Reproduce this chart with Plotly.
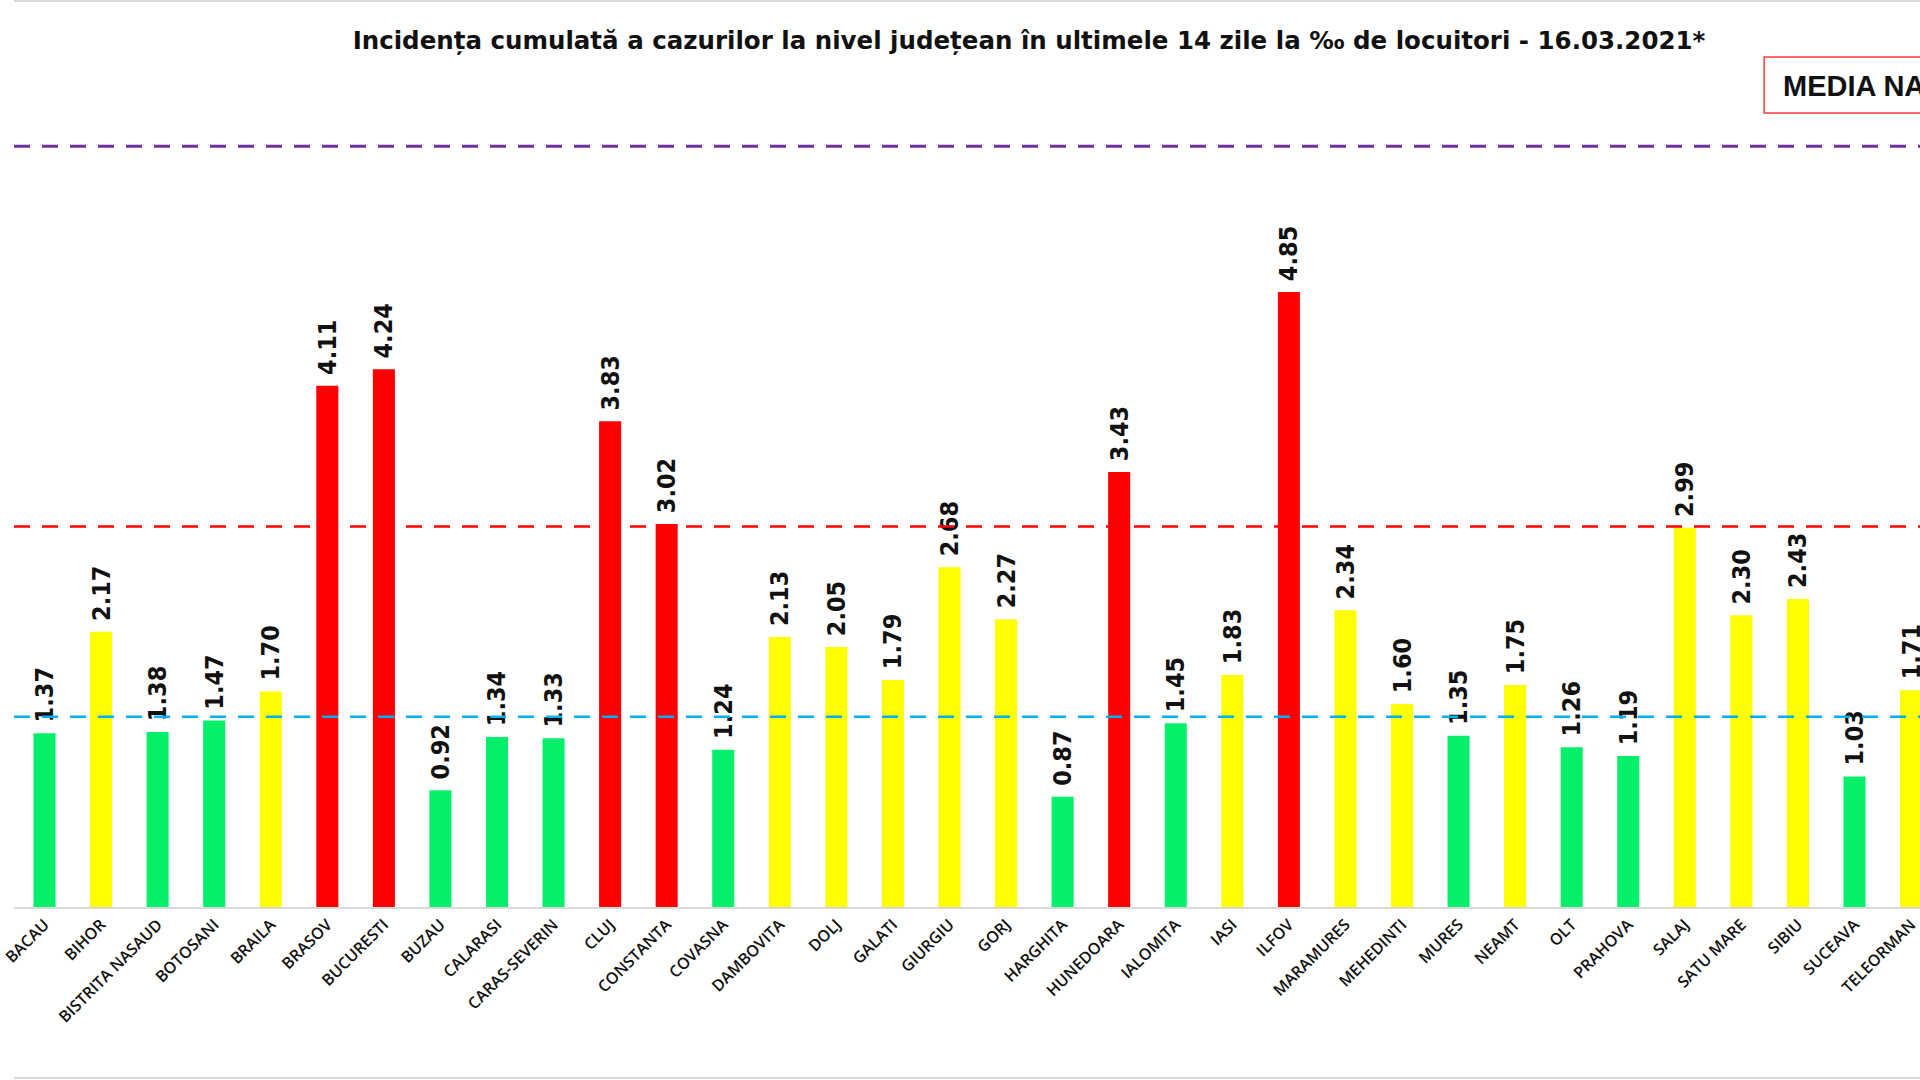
import plotly.graph_objects as go

counties = ["BACAU", "BIHOR", "BISTRITA NASAUD", "BOTOSANI", "BRAILA", "BRASOV", "BUCURESTI",
            "BUZAU", "CALARASI", "CARAS-SEVERIN", "CLUJ", "CONSTANTA", "COVASNA", "DAMBOVITA",
            "DOLJ", "GALATI", "GIURGIU", "GORJ", "HARGHITA", "HUNEDOARA", "IALOMITA", "IASI",
            "ILFOV", "MARAMURES", "MEHEDINTI", "MURES", "NEAMT", "OLT", "PRAHOVA", "SALAJ",
            "SATU MARE", "SIBIU", "SUCEAVA", "TELEORMAN"]
incidence = [1.37, 2.17, 1.38, 1.47, 1.70, 4.11, 4.24,
             0.92, 1.34, 1.33, 3.83, 3.02, 1.24, 2.13,
             2.05, 1.79, 2.68, 2.27, 0.87, 3.43, 1.45, 1.83,
             4.85, 2.34, 1.60, 1.35, 1.75, 1.26, 1.19, 2.99,
             2.30, 2.43, 1.03, 1.71]
thresholds = [1.5, 3.0, 6.0]
title_text = "Incidența cumulată a cazurilor la nivel județean în ultimele 14 zile la ‰ de locuitori - 16.03.2021*"
box_text = "MEDIA NATIONALA"

GREEN, YELLOW, RED = "#05F06A", "#FFFF00", "#FF0000"


def color_for(v):
    if v <= thresholds[0]:
        return GREEN
    if v <= thresholds[1]:
        return YELLOW
    return RED


colors = [color_for(v) for v in incidence]

W, H = 1920, 1080
BASE = 907  # pixel row of the category axis
PLOT_H = BASE


def py(pix):
    """paper y for a pixel row measured from the top"""
    return (PLOT_H - pix) / PLOT_H


fig = go.Figure()
fig.add_trace(go.Bar(
    x=counties, y=incidence,
    marker=dict(color=colors, line=dict(width=0)),
    width=0.39,
    text=["\u00a0" + f"{v:.2f}" for v in incidence],
    textposition="outside",
    textangle=-90,
    cliponaxis=False,
    constraintext="none",
    textfont=dict(family="Liberation Sans Narrow, DejaVu Sans Condensed, Arial Narrow, sans-serif",
                  size=25, color="#111111", weight="bold"),
    hoverinfo="skip",
))

line_styles = [("#00B0F0", 2.5), ("#FF0000", 2.5), ("#7030A0", 3)]
for val, (col, w) in zip(thresholds, line_styles):
    fig.add_shape(type="line", xref="paper", yref="y", x0=0, x1=1, y0=val, y1=val,
                  line=dict(color=col, width=w, dash="16px,12px"), layer="above")

# thin grey frame lines at top and bottom of the picture
for pix in (1, 1078):
    fig.add_shape(type="line", xref="paper", yref="paper", x0=0, x1=1, y0=py(pix), y1=py(pix),
                  line=dict(color="#D9D9D9", width=2))

# legend-like box (cut by the right edge, as in the reference)
fig.add_shape(type="rect", xref="paper", yref="paper",
              x0=1763 / W, x1=1.02, y0=py(113), y1=py(57),
              line=dict(color="#FF3B3B", width=1.5), fillcolor="white", layer="above")
fig.add_annotation(
    text=box_text, xref="paper", yref="paper", x=1780 / W, y=py(86),
    xanchor="left", yanchor="middle", showarrow=False,
    font=dict(family="Liberation Sans, Arial, sans-serif", size=29, color="#111111", weight="bold"),
    align="left",
)

fig.update_layout(
    width=W, height=H,
    margin=dict(l=0, r=0, t=0, b=H - BASE),
    paper_bgcolor="white", plot_bgcolor="white",
    showlegend=False,
    title=dict(text=title_text, x=1029 / W, xanchor="center", xref="container",
               y=1 - 40 / H, yanchor="middle", yref="container",
               font=dict(family="DejaVu Sans, sans-serif", size=24.5, color="#111111", weight="bold")),
    xaxis=dict(
        type="category",
        range=[-0.539, 33.158],
        tickangle=-45,
        tickfont=dict(family="Open Sans, sans-serif", size=16, color="#111111", weight=600),
        showgrid=False, zeroline=False,
        showline=True, linecolor="#D9D9D9", linewidth=2,
        ticks="", ticklen=0,
    ),
    yaxis=dict(
        range=[0, BASE / 126.8],
        visible=False, showgrid=False, zeroline=False,
    ),
)

fig.write_html("out.html", config={"displayModeBar": False},
               post_script="document.body.style.margin='0';")
